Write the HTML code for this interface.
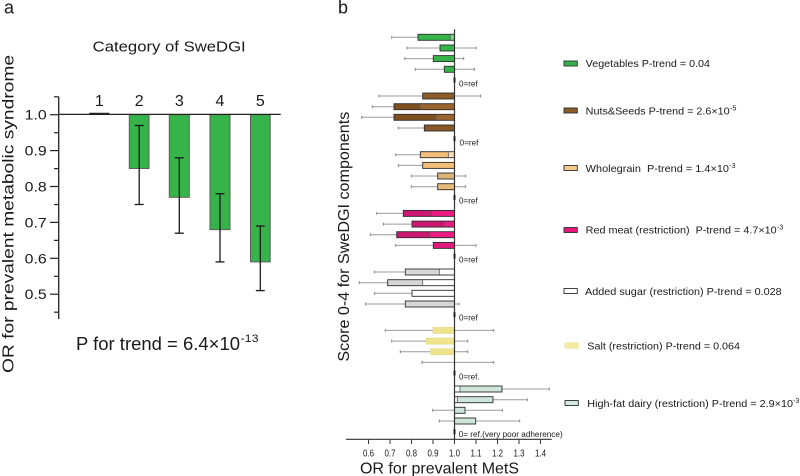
<!DOCTYPE html>
<html>
<head>
<meta charset="utf-8">
<style>
html,body{margin:0;padding:0;background:#fff;}
svg{display:block;}
text{font-family:"Liberation Sans",Arial,sans-serif;fill:#1a1a1a;}
.pre{white-space:pre;}
</style>
</head>
<body>
<svg width="800" height="476" viewBox="0 0 800 476" xmlns="http://www.w3.org/2000/svg">
<rect width="800" height="476" fill="#fff"/>

<!-- Panel labels -->
<text x="4" y="13.5" font-size="18">a</text>
<text x="338" y="13.5" font-size="18">b</text>

<!-- ================= PANEL A ================= -->
<text x="92.7" y="51.7" font-size="15" textLength="153" lengthAdjust="spacingAndGlyphs">Category of SweDGI</text>

<text transform="translate(13.5,214) rotate(-90)" text-anchor="middle" font-size="16" textLength="318" lengthAdjust="spacingAndGlyphs">OR for prevalent metabolic syndrome</text>

<!-- category labels -->
<g font-size="16" text-anchor="middle">
<text x="99.3" y="106">1</text>
<text x="139.2" y="106">2</text>
<text x="179.3" y="106">3</text>
<text x="220" y="106">4</text>
<text x="260.3" y="106">5</text>
</g>

<!-- y axis -->
<line x1="58.7" y1="96.7" x2="58.7" y2="319" stroke="#222" stroke-width="1.3"/>
<g stroke="#222" stroke-width="1.2">
<line x1="50" y1="114.7" x2="58.7" y2="114.7"/>
<line x1="50" y1="150.6" x2="58.7" y2="150.6"/>
<line x1="50" y1="186.5" x2="58.7" y2="186.5"/>
<line x1="50" y1="222.4" x2="58.7" y2="222.4"/>
<line x1="50" y1="258.3" x2="58.7" y2="258.3"/>
<line x1="50" y1="294.2" x2="58.7" y2="294.2"/>
<line x1="54" y1="96.8" x2="58.7" y2="96.8"/>
<line x1="54" y1="132.7" x2="58.7" y2="132.7"/>
<line x1="54" y1="168.6" x2="58.7" y2="168.6"/>
<line x1="54" y1="204.5" x2="58.7" y2="204.5"/>
<line x1="54" y1="240.4" x2="58.7" y2="240.4"/>
<line x1="54" y1="276.3" x2="58.7" y2="276.3"/>
<line x1="54" y1="312.2" x2="58.7" y2="312.2"/>
</g>
<g font-size="14" text-anchor="end">
<text x="46.7" y="119.7" textLength="22" lengthAdjust="spacingAndGlyphs">1.0</text>
<text x="46.7" y="155.6" textLength="22" lengthAdjust="spacingAndGlyphs">0.9</text>
<text x="46.7" y="191.5" textLength="22" lengthAdjust="spacingAndGlyphs">0.8</text>
<text x="46.7" y="227.4" textLength="22" lengthAdjust="spacingAndGlyphs">0.7</text>
<text x="46.7" y="263.3" textLength="22" lengthAdjust="spacingAndGlyphs">0.6</text>
<text x="46.7" y="299.2" textLength="22" lengthAdjust="spacingAndGlyphs">0.5</text>
</g>

<!-- bars -->
<g fill="#36b44a" stroke="#5e5e5e" stroke-width="1">
<rect x="129.3" y="114.7" width="19.7" height="53.8"/>
<rect x="169.3" y="114.7" width="20" height="82.6"/>
<rect x="210" y="114.7" width="20" height="114.9"/>
<rect x="250.5" y="114.7" width="19.7" height="147.2"/>
</g>
<!-- reference line -->
<line x1="58.7" y1="114.4" x2="280.7" y2="114.4" stroke="#222" stroke-width="1.3"/>
<line x1="89.3" y1="113.8" x2="109.3" y2="113.8" stroke="#222" stroke-width="2"/>

<!-- error bars -->
<g stroke="#1a1a1a" stroke-width="1.3">
<line x1="139.2" y1="125.5" x2="139.2" y2="204.5"/>
<line x1="134.7" y1="125.5" x2="143.7" y2="125.5"/>
<line x1="134.7" y1="204.5" x2="143.7" y2="204.5"/>
<line x1="179.3" y1="157.8" x2="179.3" y2="233.2"/>
<line x1="174.8" y1="157.8" x2="183.8" y2="157.8"/>
<line x1="174.8" y1="233.2" x2="183.8" y2="233.2"/>
<line x1="220" y1="193.7" x2="220" y2="261.9"/>
<line x1="215.5" y1="193.7" x2="224.5" y2="193.7"/>
<line x1="215.5" y1="261.9" x2="224.5" y2="261.9"/>
<line x1="260.3" y1="226" x2="260.3" y2="290.6"/>
<line x1="255.8" y1="226" x2="264.8" y2="226"/>
<line x1="255.8" y1="290.6" x2="264.8" y2="290.6"/>
</g>

<text x="76" y="350" font-size="18" textLength="164" lengthAdjust="spacingAndGlyphs">P for trend = 6.4×10</text>
<text x="240.5" y="342" font-size="11" textLength="18" lengthAdjust="spacingAndGlyphs">-13</text>

<!-- ================= PANEL B ================= -->
<text transform="translate(349,236.7) rotate(-90)" text-anchor="middle" font-size="16" textLength="250" lengthAdjust="spacingAndGlyphs">Score 0-4 for SweDGI components</text>

<!-- whiskers -->
<g stroke="#9c9c9c" stroke-width="1">
<!-- veg -->
<line x1="391.7" y1="37.3" x2="450.2" y2="37.3"/>
<line x1="407" y1="48" x2="476" y2="48"/>
<line x1="404.7" y1="58.6" x2="463.7" y2="58.6"/>
<line x1="415.3" y1="69.3" x2="474.3" y2="69.3"/>
<!-- nuts -->
<line x1="379" y1="96" x2="480.7" y2="96"/>
<line x1="372.3" y1="106.7" x2="420" y2="106.7"/>
<line x1="361.7" y1="117.3" x2="436" y2="117.3"/>
<line x1="398.3" y1="128" x2="452" y2="128"/>
<!-- wholegrain -->
<line x1="395.7" y1="154.7" x2="448.3" y2="154.7"/>
<line x1="398.3" y1="165.4" x2="452" y2="165.4"/>
<line x1="411.3" y1="176" x2="465.7" y2="176"/>
<line x1="411.3" y1="186.7" x2="465.7" y2="186.7"/>
<!-- red meat -->
<line x1="376.7" y1="213.4" x2="431" y2="213.4"/>
<line x1="383.3" y1="224.1" x2="444" y2="224.1"/>
<line x1="370.3" y1="234.7" x2="429" y2="234.7"/>
<line x1="395.7" y1="245.4" x2="476" y2="245.4"/>
<!-- sugar -->
<line x1="374.3" y1="272" x2="439.3" y2="272"/>
<line x1="359.3" y1="282.7" x2="422.7" y2="282.7"/>
<line x1="374.3" y1="293.3" x2="454" y2="293.3"/>
<line x1="365.7" y1="304" x2="459" y2="304"/>
<!-- salt -->
<line x1="385.3" y1="330.4" x2="493.7" y2="330.4"/>
<line x1="391.7" y1="341.1" x2="467.7" y2="341.1"/>
<line x1="400.3" y1="351.7" x2="467.7" y2="351.7"/>
<line x1="422" y1="362.4" x2="493.7" y2="362.4"/>
<!-- dairy -->
<line x1="460" y1="389" x2="549.3" y2="389"/>
<line x1="457.3" y1="399.7" x2="527.3" y2="399.7"/>
<line x1="432.7" y1="410.3" x2="502.3" y2="410.3"/>
<line x1="439.3" y1="421" x2="519.7" y2="421"/>
</g>
<!-- whisker caps -->
<g stroke="#8a8a8a" stroke-width="1">
<line x1="391.7" y1="35.8" x2="391.7" y2="38.8"/>
<line x1="407" y1="46.5" x2="407" y2="49.5"/><line x1="476" y1="46.5" x2="476" y2="49.5"/>
<line x1="404.7" y1="57.1" x2="404.7" y2="60.1"/><line x1="463.7" y1="57.1" x2="463.7" y2="60.1"/>
<line x1="415.3" y1="67.8" x2="415.3" y2="70.8"/><line x1="474.3" y1="67.8" x2="474.3" y2="70.8"/>
<line x1="379" y1="94.5" x2="379" y2="97.5"/><line x1="480.7" y1="94.5" x2="480.7" y2="97.5"/>
<line x1="372.3" y1="105.2" x2="372.3" y2="108.2"/>
<line x1="361.7" y1="115.8" x2="361.7" y2="118.8"/>
<line x1="398.3" y1="126.5" x2="398.3" y2="129.5"/>
<line x1="395.7" y1="153.2" x2="395.7" y2="156.2"/>
<line x1="398.3" y1="163.9" x2="398.3" y2="166.9"/>
<line x1="411.3" y1="174.5" x2="411.3" y2="177.5"/><line x1="465.7" y1="174.5" x2="465.7" y2="177.5"/>
<line x1="411.3" y1="185.2" x2="411.3" y2="188.2"/><line x1="465.7" y1="185.2" x2="465.7" y2="188.2"/>
<line x1="376.7" y1="211.9" x2="376.7" y2="214.9"/>
<line x1="383.3" y1="222.6" x2="383.3" y2="225.6"/>
<line x1="370.3" y1="233.2" x2="370.3" y2="236.2"/>
<line x1="395.7" y1="243.9" x2="395.7" y2="246.9"/><line x1="476" y1="243.9" x2="476" y2="246.9"/>
<line x1="374.3" y1="270.5" x2="374.3" y2="273.5"/>
<line x1="359.3" y1="281.2" x2="359.3" y2="284.2"/>
<line x1="374.3" y1="291.8" x2="374.3" y2="294.8"/>
<line x1="365.7" y1="302.5" x2="365.7" y2="305.5"/><line x1="459" y1="302.5" x2="459" y2="305.5"/>
<line x1="385.3" y1="328.9" x2="385.3" y2="331.9"/><line x1="493.7" y1="328.9" x2="493.7" y2="331.9"/>
<line x1="391.7" y1="339.6" x2="391.7" y2="342.6"/><line x1="467.7" y1="339.6" x2="467.7" y2="342.6"/>
<line x1="400.3" y1="350.2" x2="400.3" y2="353.2"/><line x1="467.7" y1="350.2" x2="467.7" y2="353.2"/>
<line x1="422" y1="360.9" x2="422" y2="363.9"/><line x1="493.7" y1="360.9" x2="493.7" y2="363.9"/>
<line x1="549.3" y1="387.5" x2="549.3" y2="390.5"/>
<line x1="527.3" y1="398.2" x2="527.3" y2="401.2"/>
<line x1="432.7" y1="408.8" x2="432.7" y2="411.8"/><line x1="502.3" y1="408.8" x2="502.3" y2="411.8"/>
<line x1="439.3" y1="419.5" x2="439.3" y2="422.5"/><line x1="519.7" y1="419.5" x2="519.7" y2="422.5"/>
</g>

<!-- bars: light base + main overlay + outline -->
<!-- Vegetables -->
<rect x="418" y="34.3" width="36.5" height="6" fill="#7fd38a"/>
<rect x="418" y="34.3" width="32.2" height="6" fill="#36b44a"/>
<rect x="440" y="45" width="14.5" height="6" fill="#36b44a"/>
<rect x="433.3" y="55.6" width="21.2" height="6" fill="#36b44a"/>
<rect x="444.3" y="66.3" width="10.2" height="6" fill="#36b44a"/>
<!-- Nuts -->
<rect x="422.7" y="93" width="31.8" height="6" fill="#8a5a28"/>
<rect x="394" y="103.7" width="60.5" height="6" fill="#9a6630"/>
<rect x="394" y="103.7" width="26" height="6" fill="#7e5020"/>
<rect x="394" y="114.3" width="60.5" height="6" fill="#9a6630"/>
<rect x="394" y="114.3" width="42" height="6" fill="#7e5020"/>
<rect x="424.3" y="125" width="30.2" height="6" fill="#875826"/>
<!-- Wholegrain -->
<rect x="420.3" y="151.7" width="34.2" height="6" fill="#fcdcae"/>
<rect x="420.3" y="151.7" width="28" height="6" fill="#f2be78"/>
<rect x="422.7" y="162.4" width="31.8" height="6" fill="#f2be78"/>
<rect x="437.7" y="173" width="16.8" height="6" fill="#dcb47a"/>
<rect x="437.7" y="183.7" width="16.8" height="6" fill="#e8ba7a"/>
<!-- Red meat -->
<rect x="403.3" y="210.4" width="51.2" height="6" fill="#ea1c82"/>
<rect x="403.3" y="210.4" width="27.7" height="6" fill="#cc1872"/>
<rect x="412" y="221.1" width="42.5" height="6" fill="#ea1c82"/>
<rect x="412" y="221.1" width="32" height="6" fill="#cc1872"/>
<rect x="396.7" y="231.7" width="57.8" height="6" fill="#ea1c82"/>
<rect x="396.7" y="231.7" width="32.3" height="6" fill="#cc1872"/>
<rect x="433.3" y="242.4" width="21.2" height="6" fill="#e01a7c"/>
<!-- Added sugar -->
<rect x="405.3" y="269" width="49.2" height="6" fill="#ffffff"/>
<rect x="405.3" y="269" width="34" height="6" fill="#d6d6d6"/>
<rect x="387.7" y="279.7" width="66.8" height="6" fill="#ffffff"/>
<rect x="387.7" y="279.7" width="35" height="6" fill="#d6d6d6"/>
<rect x="412" y="290.3" width="42.5" height="6" fill="#ffffff"/>
<rect x="405.3" y="301" width="49.2" height="6" fill="#d6d6d6"/>
<!-- Salt -->
<rect x="433" y="327.4" width="21.5" height="6" fill="#efe48e"/>
<rect x="426.3" y="338.1" width="28.2" height="6" fill="#efe48e"/>
<rect x="430.7" y="348.7" width="23.8" height="6" fill="#efe48e"/>
<!-- Dairy -->
<rect x="454.5" y="386" width="47.5" height="6" fill="#cde5da"/>
<rect x="454.5" y="386" width="5.5" height="6" fill="#ffffff"/>
<rect x="454.5" y="396.7" width="38.5" height="6" fill="#cde5da"/>
<rect x="454.5" y="396.7" width="2.8" height="6" fill="#ffffff"/>
<rect x="454.5" y="407.3" width="10.5" height="6" fill="#cde5da"/>
<rect x="454.5" y="418" width="21.2" height="6" fill="#cde5da"/>

<!-- outlines -->
<g fill="none" stroke="#2e2e2e" stroke-width="0.9">
<rect x="418" y="34.3" width="36.5" height="6"/>
<rect x="440" y="45" width="14.5" height="6"/>
<rect x="433.3" y="55.6" width="21.2" height="6"/>
<rect x="444.3" y="66.3" width="10.2" height="6"/>
<rect x="422.7" y="93" width="31.8" height="6"/>
<rect x="394" y="103.7" width="60.5" height="6"/>
<rect x="394" y="114.3" width="60.5" height="6"/>
<rect x="424.3" y="125" width="30.2" height="6"/>
<rect x="420.3" y="151.7" width="34.2" height="6"/>
<rect x="422.7" y="162.4" width="31.8" height="6"/>
<rect x="437.7" y="173" width="16.8" height="6"/>
<rect x="437.7" y="183.7" width="16.8" height="6"/>
<rect x="403.3" y="210.4" width="51.2" height="6"/>
<rect x="412" y="221.1" width="42.5" height="6"/>
<rect x="396.7" y="231.7" width="57.8" height="6"/>
<rect x="433.3" y="242.4" width="21.2" height="6"/>
<rect x="405.3" y="269" width="49.2" height="6"/>
<rect x="387.7" y="279.7" width="66.8" height="6"/>
<rect x="412" y="290.3" width="42.5" height="6"/>
<rect x="405.3" y="301" width="49.2" height="6"/>
<rect x="454.5" y="386" width="47.5" height="6"/>
<rect x="454.5" y="396.7" width="38.5" height="6"/>
<rect x="454.5" y="407.3" width="10.5" height="6"/>
<rect x="454.5" y="418" width="21.2" height="6"/>
</g>
<g fill="none" stroke="#e0d67e" stroke-width="0.6">
<rect x="433" y="327.4" width="21.5" height="6"/>
<rect x="426.3" y="338.1" width="28.2" height="6"/>
<rect x="430.7" y="348.7" width="23.8" height="6"/>
</g>

<!-- inner CI marks -->
<g stroke="#555" stroke-width="0.8">
<line x1="450.2" y1="34.8" x2="450.2" y2="39.8"/>
<line x1="420" y1="104.2" x2="420" y2="109.2"/>
<line x1="436" y1="114.8" x2="436" y2="119.8"/>
<line x1="448.3" y1="152.2" x2="448.3" y2="157.2"/>
<line x1="431" y1="210.9" x2="431" y2="215.9"/>
<line x1="444" y1="221.6" x2="444" y2="226.6"/>
<line x1="429" y1="232.2" x2="429" y2="237.2"/>
<line x1="439.3" y1="269.5" x2="439.3" y2="274.5"/>
<line x1="422.7" y1="280.2" x2="422.7" y2="285.2"/>
<line x1="460" y1="386.5" x2="460" y2="391.5"/>
<line x1="457.3" y1="397.2" x2="457.3" y2="402.2"/>
</g>

<!-- vertical axis at 1.0 -->
<line x1="454.5" y1="29.3" x2="454.5" y2="439.3" stroke="#333" stroke-width="1.2"/>
<!-- ref markers -->
<g fill="#222">
<rect x="453.5" y="77.5" width="2" height="5"/>
<rect x="453.5" y="136.2" width="2" height="5"/>
<rect x="453.5" y="194.9" width="2" height="5"/>
<rect x="453.5" y="253.6" width="2" height="5"/>
<rect x="453.5" y="312.2" width="2" height="5"/>
<rect x="453.5" y="370.6" width="2" height="5"/>
<rect x="453.5" y="429.2" width="2" height="5"/>
</g>
<g font-size="8">
<text x="459" y="86.3" textLength="18.7" lengthAdjust="spacingAndGlyphs">0=ref</text>
<text x="459.7" y="145.3" textLength="18.7" lengthAdjust="spacingAndGlyphs">0=ref</text>
<text x="459" y="203.5" textLength="18.7" lengthAdjust="spacingAndGlyphs">0=ref</text>
<text x="459" y="262.3" textLength="18.7" lengthAdjust="spacingAndGlyphs">0=ref</text>
<text x="459" y="320.5" textLength="18.7" lengthAdjust="spacingAndGlyphs">0=ref</text>
<text x="459" y="379.7" textLength="20.5" lengthAdjust="spacingAndGlyphs">0=ref.</text>
<text x="458.7" y="436.9" textLength="104" lengthAdjust="spacingAndGlyphs">0= ref.(very poor adherence)</text>
</g>

<!-- x axis -->
<line x1="346" y1="439.3" x2="551.7" y2="439.3" stroke="#333" stroke-width="1.2"/>
<g stroke="#333" stroke-width="1">
<line x1="368.5" y1="439.3" x2="368.5" y2="444"/>
<line x1="390" y1="439.3" x2="390" y2="444"/>
<line x1="411.5" y1="439.3" x2="411.5" y2="444"/>
<line x1="433" y1="439.3" x2="433" y2="444"/>
<line x1="454.5" y1="439.3" x2="454.5" y2="444"/>
<line x1="476" y1="439.3" x2="476" y2="444"/>
<line x1="497.5" y1="439.3" x2="497.5" y2="444"/>
<line x1="519" y1="439.3" x2="519" y2="444"/>
<line x1="540.5" y1="439.3" x2="540.5" y2="444"/>
</g>
<g font-size="10" text-anchor="middle">
<text x="368.5" y="456.7" textLength="11" lengthAdjust="spacingAndGlyphs">0.6</text>
<text x="390" y="456.7" textLength="11" lengthAdjust="spacingAndGlyphs">0.7</text>
<text x="411.5" y="456.7" textLength="11" lengthAdjust="spacingAndGlyphs">0.8</text>
<text x="433" y="456.7" textLength="11" lengthAdjust="spacingAndGlyphs">0.9</text>
<text x="454.5" y="456.7" textLength="11" lengthAdjust="spacingAndGlyphs">1.0</text>
<text x="476" y="456.7" textLength="11" lengthAdjust="spacingAndGlyphs">1.1</text>
<text x="497.5" y="456.7" textLength="11" lengthAdjust="spacingAndGlyphs">1.2</text>
<text x="519" y="456.7" textLength="11" lengthAdjust="spacingAndGlyphs">1.3</text>
<text x="540.5" y="456.7" textLength="11" lengthAdjust="spacingAndGlyphs">1.4</text>
</g>
<text x="360" y="473.3" font-size="16" textLength="159" lengthAdjust="spacingAndGlyphs">OR for prevalent MetS</text>

<!-- Legend -->
<g stroke="#2e2e2e" stroke-width="0.9">
<rect x="564" y="61" width="13.3" height="5" fill="#36b44a"/>
<rect x="564" y="108" width="13.3" height="5" fill="#8a5a28"/>
<rect x="564" y="165.5" width="13.3" height="5" fill="#f7c98a"/>
<rect x="564" y="227.5" width="13.3" height="5" fill="#e8177a"/>
<rect x="564" y="288.5" width="13.3" height="5" fill="#ffffff"/>
<rect x="565" y="400.5" width="13.3" height="5" fill="#d2e9df"/>
</g>
<rect x="565" y="342.7" width="13.3" height="5.6" fill="#f3ec9e" stroke="#e6dd88" stroke-width="0.5"/>

<g font-size="10.5">
<text x="585.7" y="67" textLength="124.3" lengthAdjust="spacingAndGlyphs">Vegetables P-trend = 0.04</text>
<text x="585.7" y="114.7" textLength="144" lengthAdjust="spacingAndGlyphs">Nuts&amp;Seeds P-trend = 2.6×10</text>
<text x="585.7" y="172" class="pre" textLength="143.3" lengthAdjust="spacingAndGlyphs">Wholegrain  P-trend = 1.4×10</text>
<text x="585.7" y="233.7" class="pre" textLength="191" lengthAdjust="spacingAndGlyphs">Red meat (restriction)  P-trend = 4.7×10</text>
<text x="585" y="295" textLength="196.7" lengthAdjust="spacingAndGlyphs">Added sugar (restriction) P-trend = 0.028</text>
<text x="587.3" y="349.4" textLength="152.7" lengthAdjust="spacingAndGlyphs">Salt (restriction) P-trend = 0.064</text>
<text x="587.3" y="407" textLength="205.7" lengthAdjust="spacingAndGlyphs">High-fat dairy (restriction) P-trend = 2.9×10</text>
</g>
<g font-size="7">
<text x="730" y="110.5" textLength="6.5" lengthAdjust="spacingAndGlyphs">-5</text>
<text x="729.3" y="167.8" textLength="6.3" lengthAdjust="spacingAndGlyphs">-3</text>
<text x="777" y="229.5" textLength="6.3" lengthAdjust="spacingAndGlyphs">-3</text>
<text x="793" y="402.8" textLength="6.3" lengthAdjust="spacingAndGlyphs">-3</text>
</g>
</svg>
</body>
</html>
